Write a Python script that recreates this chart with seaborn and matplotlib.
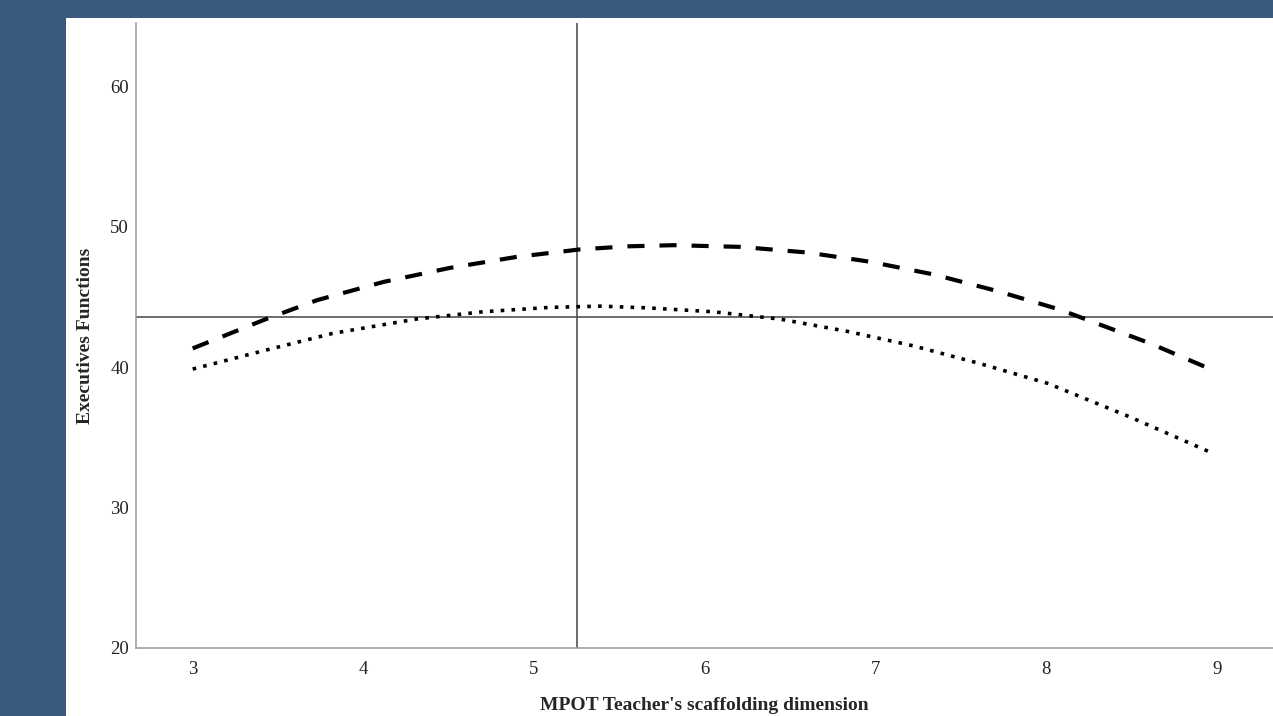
import matplotlib.pyplot as plt
import pandas as pd
import seaborn as sns
from matplotlib.patches import Rectangle

# values
dash_x = [3.00, 3.43, 3.73, 4.12, 4.51, 4.90, 5.27, 5.55, 5.82, 6.21, 6.60, 6.97, 7.34, 7.71, 8.08, 8.61, 9.00]
dash_y = [41.33, 43.42, 44.77, 46.07, 47.07, 47.85, 48.38, 48.60, 48.68, 48.56, 48.16, 47.50, 46.60, 45.43, 44.10, 41.69, 39.67]
dot_x = [3.00, 3.43, 3.82, 4.31, 4.70, 5.09, 5.39, 5.66, 6.05, 6.44, 6.83, 7.22, 7.61, 8.01, 8.49, 8.97]
dot_y = [39.86, 41.21, 42.40, 43.42, 43.94, 44.25, 44.34, 44.22, 43.94, 43.42, 42.56, 41.52, 40.26, 38.84, 36.46, 33.90]
x_ref = 5.25
y_ref = 43.56
x_ticks = [3, 4, 5, 6, 7, 8, 9]
y_ticks = [20, 30, 40, 50, 60]

df_dash = pd.DataFrame({"x": dash_x, "y": dash_y})
df_dot = pd.DataFrame({"x": dot_x, "y": dot_y})

sns.set_style("white")
plt.rcParams["font.family"] = ["Liberation Serif", "DejaVu Serif"]

fig = plt.figure(figsize=(12.73, 7.16), dpi=100, facecolor="#3b5a80")
# white panel behind the chart, blue strip left and top
fig.patches.append(Rectangle((66 / 1273, 0), 1, 1 - 18 / 716, transform=fig.transFigure,
                             facecolor="white", edgecolor="none", zorder=-5))
ax = fig.add_axes([136 / 1273, 68 / 716, 1 - 136 / 1273, (648 - 23) / 716])
ax.patch.set_alpha(0)

sns.lineplot(data=df_dash, x="x", y="y", ax=ax, color="black", lw=3.0,
             linestyle=(0, (4.1, 3.6)), sort=False)
sns.lineplot(data=df_dot, x="x", y="y", ax=ax, color="black", lw=2.6,
             linestyle=(0, (1, 2.0)), sort=False)

ax.axvline(x_ref, color="#444444", lw=1.1, zorder=1)
ax.axhline(y_ref, color="#444444", lw=1.1, zorder=1)

ax.set_xlim(2.668, 9.33)
ax.set_ylim(20, 64.5)
ax.set_xticks(x_ticks)
ax.set_yticks(y_ticks)
ax.tick_params(axis="both", length=0, labelsize=13.5, colors="#222222")
ax.tick_params(axis="x", pad=9)
ax.tick_params(axis="y", pad=5)

for side in ["top", "right"]:
    ax.spines[side].set_visible(False)
for side in ["left", "bottom"]:
    ax.spines[side].set_color("#999999")
    ax.spines[side].set_linewidth(1.1)

ax.set_xlabel("MPOT Teacher's scaffolding dimension", fontsize=14, fontweight="bold", labelpad=14)
ax.set_ylabel("Executives Functions", fontsize=14, fontweight="bold", labelpad=12)

fig.savefig("out.png", dpi=100, facecolor=fig.get_facecolor())
